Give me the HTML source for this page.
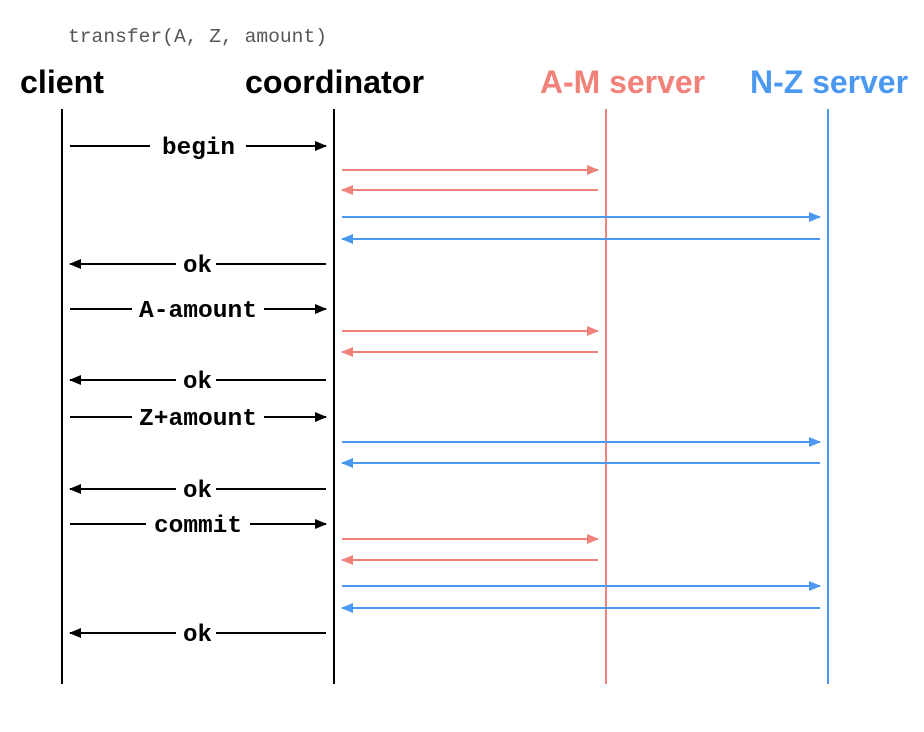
<!DOCTYPE html>
<html><head><meta charset="utf-8"><style>
html,body{margin:0;padding:0;background:#fff;}
svg{display:block}
.h{font-family:"Liberation Sans",sans-serif;font-weight:bold;font-size:32px}
.m{font-family:"Liberation Mono",monospace;font-weight:bold;font-size:24px;fill:#000}
</style></head><body>
<svg width="924" height="732" viewBox="0 0 924 732" xmlns="http://www.w3.org/2000/svg">
<defs>
<marker id="ak" markerWidth="12" markerHeight="10" refX="11" refY="5" orient="auto" markerUnits="userSpaceOnUse"><path d="M0,0 L12,5 L0,10 z" fill="#000"/></marker>
<marker id="ar" markerWidth="12" markerHeight="10" refX="11" refY="5" orient="auto" markerUnits="userSpaceOnUse"><path d="M0,0 L12,5 L0,10 z" fill="#F0827A"/></marker>
<marker id="ab" markerWidth="12" markerHeight="10" refX="11" refY="5" orient="auto" markerUnits="userSpaceOnUse"><path d="M0,0 L12,5 L0,10 z" fill="#4A98F0"/></marker>
</defs>
<text x="68" y="42" font-family="Liberation Mono,monospace" font-size="19" fill="#555" textLength="259" lengthAdjust="spacingAndGlyphs">transfer(A, Z, amount)</text>
<text class="h" x="20" y="93" fill="#000" textLength="84" lengthAdjust="spacingAndGlyphs">client</text>
<text class="h" x="245" y="93" fill="#000" textLength="179" lengthAdjust="spacingAndGlyphs">coordinator</text>
<text class="h" x="540" y="93" fill="#F0827A" textLength="165" lengthAdjust="spacingAndGlyphs">A-M server</text>
<text class="h" x="750" y="93" fill="#4A98F0" textLength="158" lengthAdjust="spacingAndGlyphs">N-Z server</text>
<g stroke-width="2">
<line x1="62" y1="109" x2="62" y2="684" stroke="#000"/>
<line x1="334" y1="109" x2="334" y2="684" stroke="#000"/>
<line x1="606" y1="109" x2="606" y2="684" stroke="#F0827A"/>
<line x1="828" y1="109" x2="828" y2="684" stroke="#4A98F0"/>
</g>
<g stroke-width="2" fill="none">
<line x1="70" y1="146" x2="326" y2="146" stroke="#000" marker-end="url(#ak)"/>
<line x1="70" y1="309" x2="326" y2="309" stroke="#000" marker-end="url(#ak)"/>
<line x1="70" y1="417" x2="326" y2="417" stroke="#000" marker-end="url(#ak)"/>
<line x1="70" y1="524" x2="326" y2="524" stroke="#000" marker-end="url(#ak)"/>
<line x1="326" y1="264" x2="70" y2="264" stroke="#000" marker-end="url(#ak)"/>
<line x1="326" y1="380" x2="70" y2="380" stroke="#000" marker-end="url(#ak)"/>
<line x1="326" y1="489" x2="70" y2="489" stroke="#000" marker-end="url(#ak)"/>
<line x1="326" y1="633" x2="70" y2="633" stroke="#000" marker-end="url(#ak)"/>
<line x1="342" y1="170" x2="598" y2="170" stroke="#F0827A" marker-end="url(#ar)"/>
<line x1="598" y1="190" x2="342" y2="190" stroke="#F0827A" marker-end="url(#ar)"/>
<line x1="342" y1="331" x2="598" y2="331" stroke="#F0827A" marker-end="url(#ar)"/>
<line x1="598" y1="352" x2="342" y2="352" stroke="#F0827A" marker-end="url(#ar)"/>
<line x1="342" y1="539" x2="598" y2="539" stroke="#F0827A" marker-end="url(#ar)"/>
<line x1="598" y1="560" x2="342" y2="560" stroke="#F0827A" marker-end="url(#ar)"/>
<line x1="342" y1="217" x2="820" y2="217" stroke="#4A98F0" marker-end="url(#ab)"/>
<line x1="820" y1="239" x2="342" y2="239" stroke="#4A98F0" marker-end="url(#ab)"/>
<line x1="342" y1="442" x2="820" y2="442" stroke="#4A98F0" marker-end="url(#ab)"/>
<line x1="820" y1="463" x2="342" y2="463" stroke="#4A98F0" marker-end="url(#ab)"/>
<line x1="342" y1="586" x2="820" y2="586" stroke="#4A98F0" marker-end="url(#ab)"/>
<line x1="820" y1="608" x2="342" y2="608" stroke="#4A98F0" marker-end="url(#ab)"/>
</g>
<g fill="#fff">
<rect x="150" y="134" width="96" height="24"/>
<rect x="132" y="297" width="132" height="24"/>
<rect x="132" y="405" width="132" height="24"/>
<rect x="146" y="512" width="104" height="24"/>
<rect x="176" y="252" width="40" height="24"/>
<rect x="176" y="368" width="40" height="24"/>
<rect x="176" y="477" width="40" height="24"/>
<rect x="176" y="621" width="40" height="24"/>
</g>
<text class="m" x="162" y="154" textLength="73" lengthAdjust="spacingAndGlyphs">begin</text>
<text class="m" x="139" y="317" textLength="118" lengthAdjust="spacingAndGlyphs">A-amount</text>
<text class="m" x="139" y="425" textLength="118" lengthAdjust="spacingAndGlyphs">Z+amount</text>
<text class="m" x="154" y="532" textLength="88" lengthAdjust="spacingAndGlyphs">commit</text>
<text class="m" x="183" y="272" textLength="29" lengthAdjust="spacingAndGlyphs">ok</text>
<text class="m" x="183" y="388" textLength="29" lengthAdjust="spacingAndGlyphs">ok</text>
<text class="m" x="183" y="497" textLength="29" lengthAdjust="spacingAndGlyphs">ok</text>
<text class="m" x="183" y="641" textLength="29" lengthAdjust="spacingAndGlyphs">ok</text>
</svg>
</body></html>
